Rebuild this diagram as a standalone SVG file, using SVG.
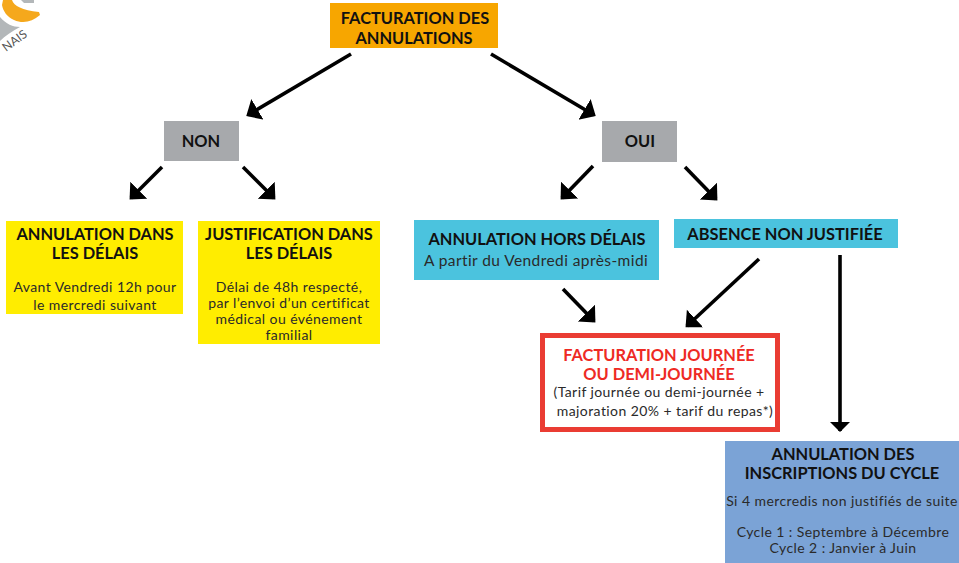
<svg xmlns="http://www.w3.org/2000/svg" width="959" height="563" viewBox="0 0 959 563">
<style>
text{font-family:"Lato","Liberation Sans",sans-serif;text-anchor:middle;fill:#1a1a1a}
.h{font-size:16.4px;font-weight:700;fill:#111}
.b{font-size:14px;letter-spacing:.42px;fill:#2a2a2a}
.c{stroke:#000;stroke-width:3.6;fill:none;marker-end:url(#a)}
.v{stroke:#000;stroke-width:3.6;fill:none;marker-end:url(#s)}
</style>
<defs>
<marker id="a" markerUnits="userSpaceOnUse" markerWidth="26" markerHeight="26" refX="11" refY="12" orient="auto"><path d="M0 0L13 12L0 24z" fill="#000"/></marker>
<marker id="s" markerUnits="userSpaceOnUse" markerWidth="22" markerHeight="22" refX="9" refY="10" orient="auto"><path d="M0 0L10 10L0 20z" fill="#000"/></marker>
</defs>
<rect width="959" height="563" fill="#fff"/>
<g id="logo">
<path d="M0 17C6 24 13 27 20 27C12 31 5 36 0 41z" fill="#b3b7b9"/>
<path d="M21 0L34 0L34 3L24 3z" fill="#b3b7b9"/>
<path d="M12 0C14 6 22 10 39 12L40 15C32 22 23 24 14 20C7 17 3 11 2 5L3 0z" fill="#f5a81c"/>
<text x="17" y="44" transform="rotate(-36 17 44)" style="font-size:12px;fill:#555">NAIS</text>
</g>
<g id="connectors">
<path class="c" d="M351 54L248 115"/>
<path class="c" d="M491 54L594 115"/>
<path class="c" d="M162 167L131 198"/>
<path class="c" d="M243 167L274 198"/>
<path class="c" d="M593 166L562 198"/>
<path class="c" d="M685 167L716 199"/>
<path class="c" d="M563 289L594 321"/>
<path class="c" d="M759 259L687 326"/>
<path class="v" d="M840 255L840 431"/>
</g>
<g id="n-title"><rect x="330" y="3" width="168" height="45" fill="#f7a600"/><text class="h" x="415" y="24">FACTURATION DES</text><text class="h" x="414" y="44">ANNULATIONS</text></g>
<g id="n-non"><rect x="164" y="121" width="75" height="40" fill="#a7a9ac"/><text class="h" x="201" y="147">NON</text></g>
<g id="n-oui"><rect x="602" y="121" width="75" height="41" fill="#a7a9ac"/><text class="h" x="640" y="147">OUI</text></g>
<g id="n-annulation"><rect x="6" y="221" width="177" height="93" fill="#ffed00"/><text class="h" x="95" y="240">ANNULATION DANS</text><text class="h" x="95" y="259">LES DÉLAIS</text><text class="b" x="95" y="292">Avant Vendredi 12h pour</text><text class="b" x="95" y="310">le mercredi suivant</text></g>
<g id="n-justification"><rect x="198" y="221" width="182" height="123" fill="#ffed00"/><text class="h" x="289" y="240">JUSTIFICATION DANS</text><text class="h" x="289" y="259">LES DÉLAIS</text><text class="b" x="289" y="292">Délai de 48h respecté,</text><text class="b" x="289" y="308">par l’envoi d’un certificat</text><text class="b" x="289" y="324">médical ou événement</text><text class="b" x="289" y="340">familial</text></g>
<g id="n-hors"><rect x="414" y="220" width="245" height="60" fill="#4bc3de"/><text class="h" x="537" y="245">ANNULATION HORS DÉLAIS</text><text class="b" x="536" y="266" style="font-size:15.5px">A partir du Vendredi après-midi</text></g>
<g id="n-absence"><rect x="674" y="219" width="224" height="29" fill="#4bc3de"/><text class="h" x="785" y="240">ABSENCE NON JUSTIFIÉE</text></g>
<g id="n-facturation"><rect x="542.500" y="335.500" width="235" height="94" fill="#fff" stroke="#ea3c33" stroke-width="5"/><text class="h" x="659" y="361" style="fill:#ee2a24">FACTURATION JOURNÉE</text><text class="h" x="659" y="380" style="fill:#ee2a24">OU DEMI-JOURNÉE</text><text class="b" x="659" y="397">(Tarif journée ou demi-journée +</text><text class="b" x="665" y="416">majoration 20% + tarif du repas*)</text></g>
<g id="n-cycle"><rect x="725" y="441" width="234" height="122" fill="#7ba3d6"/><text class="h" x="843" y="460">ANNULATION DES</text><text class="h" x="842" y="479">INSCRIPTIONS DU CYCLE</text><text class="b" x="842" y="506">Si 4 mercredis non justifiés de suite</text><text class="b" x="843" y="537">Cycle 1 : Septembre à Décembre</text><text class="b" x="843" y="553">Cycle 2 : Janvier à Juin</text></g>
</svg>
